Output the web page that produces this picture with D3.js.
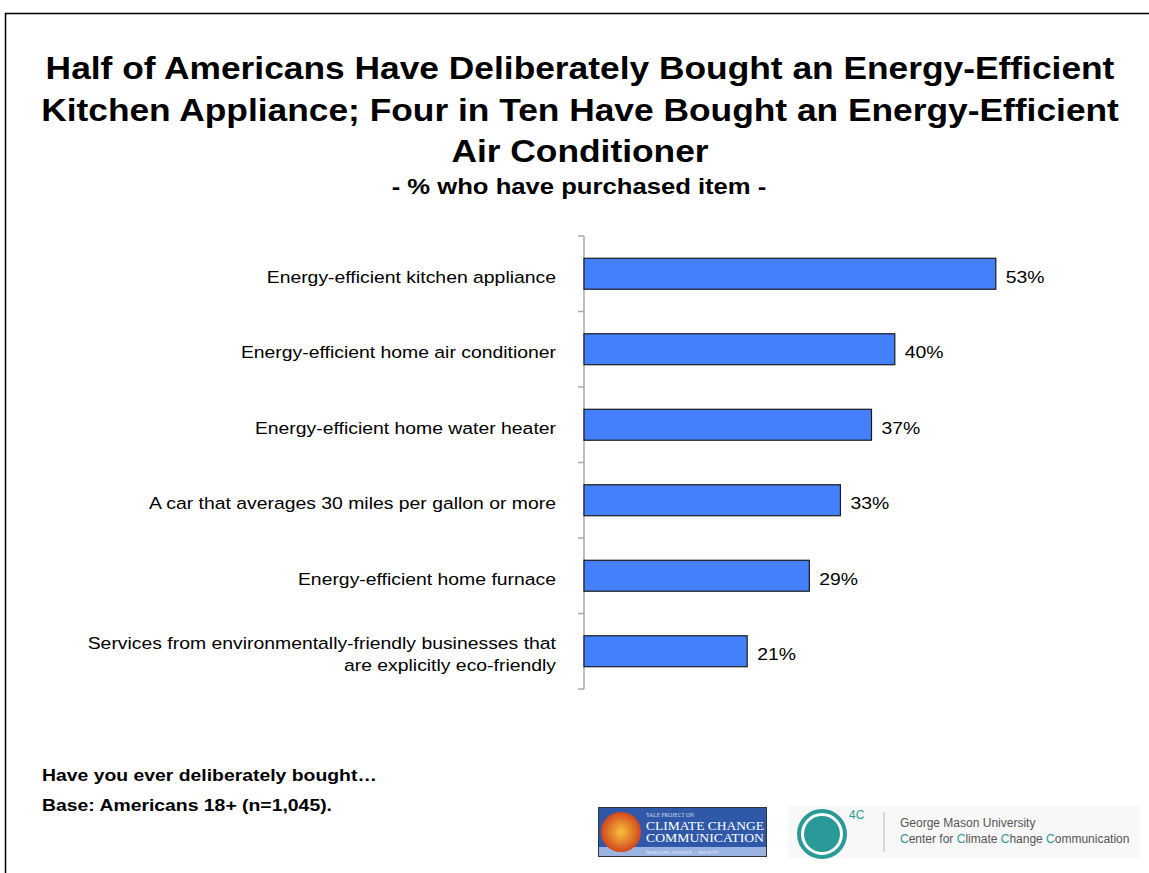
<!DOCTYPE html>
<html><head><meta charset="utf-8">
<script src="https://cdn.jsdelivr.net/npm/d3@7"></script>
<style>body{margin:0;background:#fff;}svg{display:block;font-family:"Liberation Sans",Arial,sans-serif;}</style>
</head><body><svg id="c" width="1149" height="873"></svg>
<script>
const categories = [
  ["Energy-efficient kitchen appliance"],
  ["Energy-efficient home air conditioner"],
  ["Energy-efficient home water heater"],
  ["A car that averages 30 miles per gallon or more"],
  ["Energy-efficient home furnace"],
  ["Services from environmentally-friendly businesses that", "are explicitly eco-friendly"]
];
const values = [53, 40, 37, 33, 29, 21];
const titleLines = [
  "Half of Americans Have Deliberately Bought an Energy-Efficient",
  "Kitchen Appliance; Four in Ten Have Bought an Energy-Efficient",
  "Air Conditioner"
];
const subtitle = "- % who have purchased item -";
const notes = ["Have you ever deliberately bought\u2026", "Base: Americans 18+ (n=1,045)."];

const SX = 1.14; // horizontal stretch of the reference type
const svg = d3.select("#c");
function stext(parent, x, yy, str, opts) {
  const g = parent.append("g").attr("transform", `translate(${x},${yy}) scale(${SX},1)`);
  const t = g.append("text").attr("x",0).attr("y",0).text(str);
  Object.entries(opts||{}).forEach(([k,v])=>t.attr(k,v));
  return t;
}
// frame
svg.append("rect").attr("x",5.5).attr("y",13.5).attr("width",1160).attr("height",880)
  .attr("fill","none").attr("stroke","#000").attr("stroke-width",1.5);

// title
titleLines.forEach((d,i)=>stext(svg,580,79+i*41.5,d,{"text-anchor":"middle","font-size":31,"font-weight":"bold"}));
stext(svg,579,194,subtitle,{"text-anchor":"middle","font-size":22.5,"font-weight":"bold"});

const idx = d3.range(values.length);
const y = d3.scaleBand().domain(idx).range([236,689]).paddingInner(0.59).paddingOuter(0.295);
const x = d3.scaleLinear().domain([0,100]).range([584,584+777]);

// axis with ticks at band boundaries
const bandEdges = d3.range(values.length+1).map(i=>236 + i*(689-236)/values.length);
svg.append("line").attr("x1",584).attr("x2",584).attr("y1",236).attr("y2",689).attr("stroke","#aaa").attr("stroke-width",1.5);
svg.append("g").selectAll("line").data(bandEdges).join("line")
  .attr("x1",578).attr("x2",584).attr("y1",d=>d).attr("y2",d=>d).attr("stroke","#aaa").attr("stroke-width",1.5);

// bars
svg.append("g").selectAll("rect").data(values).join("rect")
  .attr("x",x(0)).attr("y",(d,i)=>y(i)).attr("width",d=>x(d)-x(0)).attr("height",y.bandwidth())
  .attr("fill","#4580fc").attr("stroke","#1a1a1a").attr("stroke-width",1.2);

// value labels
values.forEach((d,i)=>stext(svg,x(d)+10,y(i)+y.bandwidth()/2+9,d+"%",{"font-size":17}));

// category labels
categories.forEach((lines,i)=>{
  lines.forEach((s,j)=>stext(svg,556,y(i)+y.bandwidth()/2+9-(lines.length-1)*11+j*22,s,{"text-anchor":"end","font-size":17}));
});

// notes
notes.forEach((d,i)=>stext(svg,42,781+i*30,d,{"font-size":17,"font-weight":"bold"}));

// logos
const lg = svg.append("g");
lg.append("rect").attr("x",598.5).attr("y",807.5).attr("width",168).attr("height",49).attr("fill","#2f58a8").attr("stroke","#333");
lg.append("rect").attr("x",599).attr("y",847).attr("width",167).attr("height",9).attr("fill","#9bb3e0");
const grad = svg.append("defs").append("radialGradient").attr("id","glob");
grad.append("stop").attr("offset","0%").attr("stop-color","#f7c23a");
grad.append("stop").attr("offset","100%").attr("stop-color","#d2461c");
lg.append("circle").attr("cx",621).attr("cy",832).attr("r",20).attr("fill","url(#glob)");
const serif = "Liberation Serif";
lg.append("text").attr("x",646).attr("y",817).attr("font-size",5.5).attr("fill","#dde").attr("font-family",serif).text("YALE PROJECT ON");
lg.append("text").attr("x",646).attr("y",830).attr("font-size",11.5).attr("fill","#fff").attr("font-family",serif).attr("textLength",118).attr("lengthAdjust","spacingAndGlyphs").text("CLIMATE CHANGE");
lg.append("text").attr("x",646).attr("y",842).attr("font-size",11.5).attr("fill","#fff").attr("font-family",serif).attr("textLength",118).attr("lengthAdjust","spacingAndGlyphs").text("COMMUNICATION");
lg.append("text").attr("x",646).attr("y",854).attr("font-size",5).attr("fill","#eef").attr("font-family",serif).text("BRIDGING SCIENCE + SOCIETY");

lg.append("rect").attr("x",788).attr("y",806).attr("width",352).attr("height",52).attr("fill","#f8f8f8");
lg.append("circle").attr("cx",822).attr("cy",834).attr("r",23).attr("fill","#fff").attr("stroke","#2a9a98").attr("stroke-width",4);
lg.append("circle").attr("cx",822).attr("cy",834).attr("r",18).attr("fill","#2a9a98");
lg.append("text").attr("x",849).attr("y",819).attr("font-size",12).attr("fill","#2a9a98").text("4C");
lg.append("line").attr("x1",884).attr("x2",884).attr("y1",812).attr("y2",852).attr("stroke","#bbb");
lg.append("text").attr("x",900).attr("y",827).attr("font-size",12).attr("fill","#555").text("George Mason University");
const t2 = lg.append("text").attr("x",900).attr("y",843).attr("font-size",12).attr("fill","#555");
[["C","#2a9a98"],["enter for ","#555"],["C","#2a9a98"],["limate ","#555"],["C","#2a9a98"],["hange ","#555"],["C","#2a9a98"],["ommunication","#555"]]
  .forEach(([s,c])=>t2.append("tspan").attr("fill",c).text(s));
</script></body></html>
